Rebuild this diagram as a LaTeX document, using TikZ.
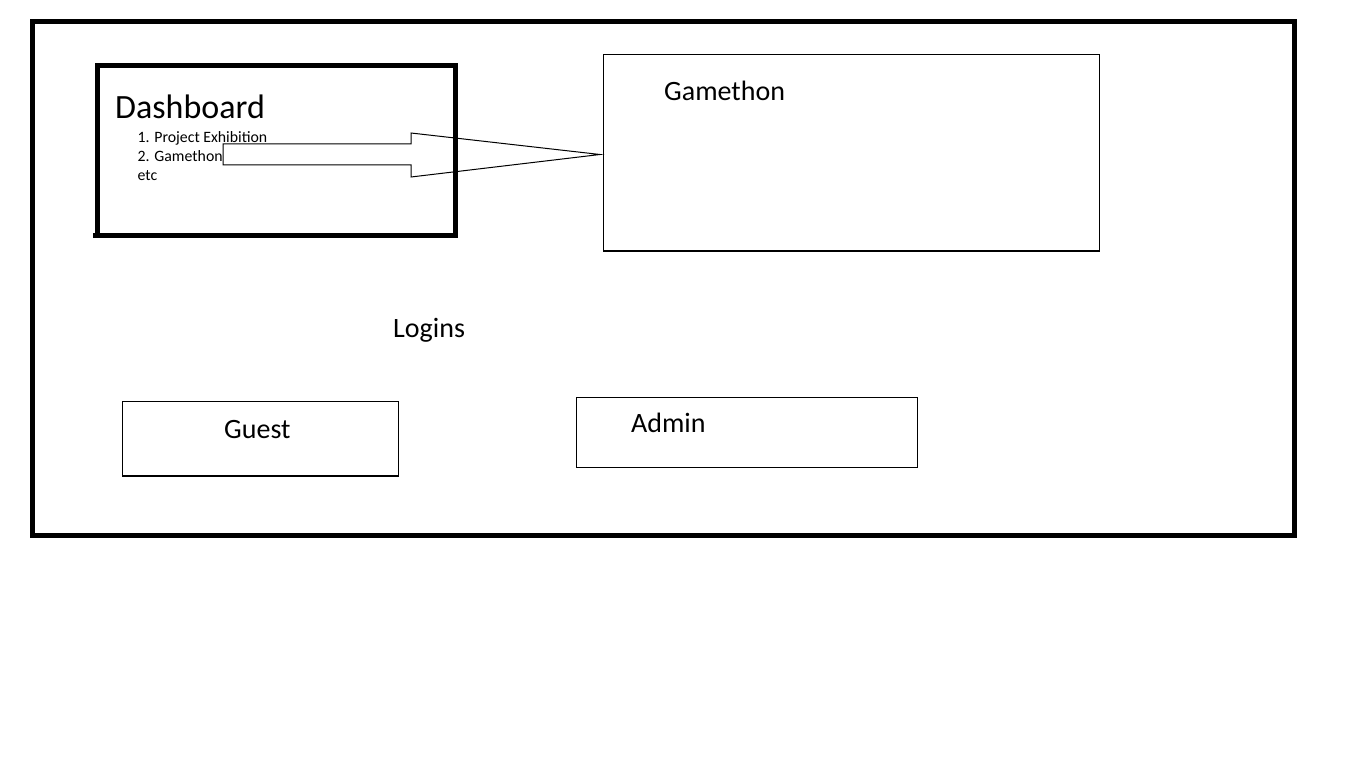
\documentclass[tikz,border=0pt]{standalone}
\usepackage{fontspec}
\setmainfont{Carlito}
\usetikzlibrary{positioning}

\begin{document}
\begin{tikzpicture}[x=1pt, y=-1pt,
  box/.style={draw, line width=1.2pt, inner sep=0pt, outer sep=0pt,
              anchor=north west},
  heavy/.style={box, line width=5pt},
  lbl/.style={inner sep=0pt, anchor=base west,
              font=\fontsize{28}{34}\selectfont},
  arr/.style={draw, line width=1pt, line join=miter}]

\useasboundingbox (0,0) rectangle (1360,770);

\node[heavy, minimum width=1262pt, minimum height=514pt] (frame) at (32.5,21.5) {};

\node[heavy, minimum width=358pt, minimum height=170pt] (dash) at (97.5,65.5) {};
\draw[line width=5pt] (dash.south west) -- ++(-5,0);
\node[lbl, font=\fontsize{34}{40}\selectfont] (dashtitle)
  at ([shift={(17.5,53)}]dash.north west) {Dashboard};
\node[lbl, font=\fontsize{15.8}{19.2}\selectfont, align=left] (dashlist)
  at ([shift={(40,115)}]dash.north west)
  {1. Project Exhibition\\2. Gamethon\\etc};

\node[box, minimum width=496pt, minimum height=196.5pt] (game) at (603.5,54.5) {};
\node[lbl] (gametitle) at ([shift={(60.5,46.5)}]game.north west) {Gamethon};

\node[lbl] (logins) at (393,337.5) {Logins};

\node[box, minimum width=276pt, minimum height=74.5pt] (guest) at (122.5,401.5) {};
\node[lbl] (guesttitle) at ([shift={(101.5,37)}]guest.north west) {Guest};

\node[box, minimum width=341pt, minimum height=70pt] (admin) at (576.5,397.5) {};
\node[lbl] (admintitle) at ([shift={(54.5,35)}]admin.north west) {Admin};

% block arrow from the list to the Gamethon box
\coordinate (tail) at (223,154.5);
\coordinate (tip) at (600,154.5);
\draw[arr] (tail) ++(0,-10.5) -- ++(188,0) -- ++(0,-11) -- (tip)
  -- ++(-189,22.5) -- ++(0,-12) -- ++(-188,0) -- cycle;

\end{tikzpicture}
\end{document}
